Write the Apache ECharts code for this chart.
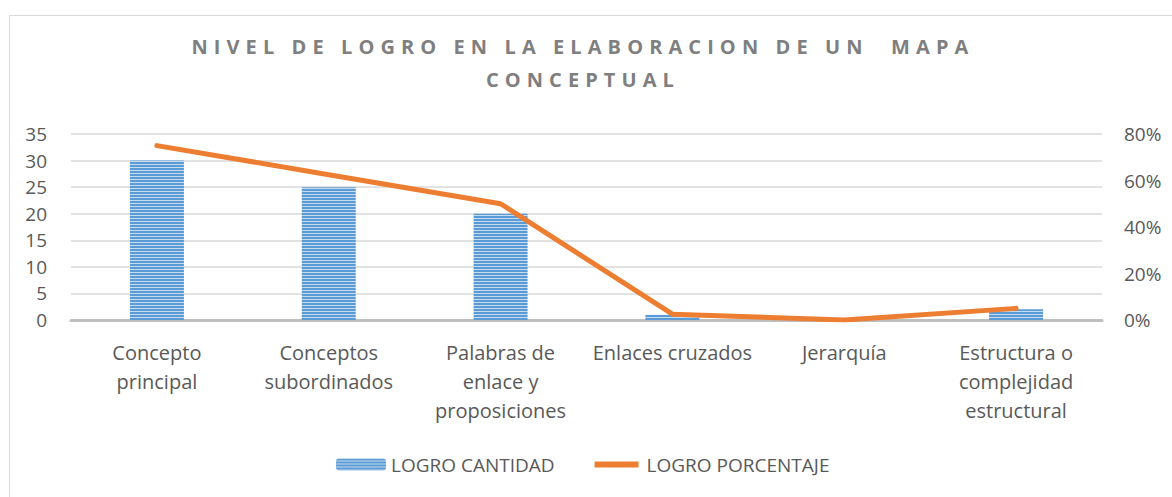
<!DOCTYPE html>
<html>
<head>
<meta charset="utf-8">
<script src="https://cdn.jsdelivr.net/npm/echarts@6/dist/echarts.min.js"></script>
<style>
  html, body { margin: 0; padding: 0; background: #fff; }
  #chart { width: 1172px; height: 497px; }
</style>
</head>
<body>
<div id="chart"></div>
<script>
// data
const categories = [
  'Concepto\nprincipal',
  'Conceptos\nsubordinados',
  'Palabras de\nenlace y\nproposiciones',
  'Enlaces cruzados',
  'Jerarquía',
  'Estructura o\ncomplejidad\nestructural'
]
const cantidad = [30, 25, 20, 1, 0, 2]
const porcentaje = [0.75, 0.625, 0.5, 0.025, 0, 0.05]
const leftTicks = { min: 0, max: 35, interval: 5 }
const rightTicks = { min: 0, max: 0.8, interval: 0.2 }
const titleLines = ['NIVEL DE LOGRO EN LA ELABORACION DE UN  MAPA', 'CONCEPTUAL']

// striped fill like the Excel pattern
const makeStripes = () => {
  const c = document.createElement('canvas')
  c.width = 4
  c.height = 3
  const ctx = c.getContext('2d')
  ctx.fillStyle = '#5b9bd5'
  ctx.fillRect(0, 0, 4, 3)
  ctx.fillStyle = '#c5dbf0'
  ctx.fillRect(0, 2, 4, 1)
  return c
}

const labelColor = '#595959'
const font = '"Open Sans", sans-serif'

const chart = echarts.init(document.getElementById('chart'), null, { renderer: 'svg' })

chart.setOption({
  animation: false,
  backgroundColor: '#fff',
  textStyle: { fontFamily: font },
  graphic: [
    {
      type: 'rect',
      left: 7, top: 13,
      shape: { width: 1300, height: 600 },
      style: { fill: 'none', stroke: '#d9d9d9', lineWidth: 1 },
      z: -1
    }
  ],
  title: {
    text: titleLines.join('\n'),
    left: 'center',
    top: 25,
    textStyle: {
      fontFamily: font,
      fontSize: 20,
      fontWeight: 'bold',
      color: '#7f7f7f',
      lineHeight: 33
    }
  },
  legend: {
    bottom: 18,
    left: 331,
    itemWidth: 50,
    itemHeight: 12,
    itemGap: 34,
    textStyle: { color: labelColor, fontSize: 19, fontFamily: font },
    data: [
      { name: 'LOGRO CANTIDAD' },
      {
        name: 'LOGRO PORCENTAJE',
        icon: 'roundRect',
        // white rim trims the box down to a thick line
        itemStyle: { color: '#ed7d31', borderColor: '#fff', borderWidth: 6 }
      }
    ]
  },
  grid: {
    left: 71,
    right: 70,
    top: 134,
    bottom: 177
  },
  xAxis: {
    type: 'category',
    data: categories,
    axisLine: { lineStyle: { color: '#bfbfbf', width: 3 } },
    axisTick: { show: false },
    axisLabel: {
      color: labelColor,
      fontSize: 20,
      lineHeight: 29,
      margin: 18,
      interval: 0
    }
  },
  yAxis: [
    {
      type: 'value',
      min: leftTicks.min,
      max: leftTicks.max,
      interval: leftTicks.interval,
      axisLine: { show: false },
      axisTick: { show: false },
      splitLine: { lineStyle: { color: '#d9d9d9', width: 1.5 } },
      axisLabel: { color: labelColor, fontSize: 19, margin: 24 }
    },
    {
      type: 'value',
      min: rightTicks.min,
      max: rightTicks.max,
      interval: rightTicks.interval,
      axisLine: { show: false },
      axisTick: { show: false },
      splitLine: { show: false },
      axisLabel: {
        color: labelColor,
        fontSize: 19,
        margin: 22,
        formatter: v => Math.round(v * 100) + '%'
      }
    }
  ],
  series: [
    {
      name: 'LOGRO CANTIDAD',
      type: 'bar',
      data: cantidad,
      barWidth: 54,
      itemStyle: { color: { image: makeStripes(), repeat: 'repeat' } }
    },
    {
      name: 'LOGRO PORCENTAJE',
      type: 'line',
      yAxisIndex: 1,
      data: porcentaje,
      symbol: 'none',
      color: '#ed7d31',
      lineStyle: { color: '#ed7d31', width: 5, cap: 'round', join: 'round' }
    }
  ]
})

// the Excel title is letter-spaced; widen the first line to ~783px
const spaceTitle = () => {
  const texts = Array.from(chart.getDom().querySelectorAll('text'))
  const titleTexts = texts.filter(t => titleLines.includes(t.textContent))
  titleTexts.forEach(t => { t.style.letterSpacing = '0px' })
  let spacing = 6
  titleTexts.forEach(t => {
    if (t.textContent === titleLines[0]) {
      spacing = (783 - t.getComputedTextLength()) / titleLines[0].length
    }
  })
  titleTexts.forEach(t => {
    t.style.letterSpacing = spacing + 'px'
    t.setAttribute('dx', -spacing / 2)
  })
}
spaceTitle()
chart.on('finished', spaceTitle)
</script>
</body>
</html>
